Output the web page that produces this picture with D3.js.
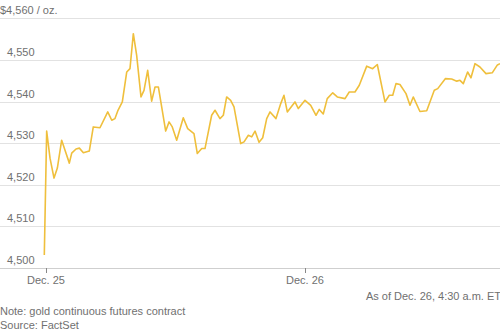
<!DOCTYPE html>
<meta charset="utf-8">
<html>
<head>
<script src="https://d3js.org/d3.v7.min.js"></script>
<style>
  body { margin: 0; background: #fff; }
  svg text { font-family: "Liberation Sans", Arial, sans-serif; font-size: 11px; fill: #707070; }
</style>
</head>
<body>
<svg width="500" height="332"></svg>
<script>

// hours after Dec. 25 00:00
var hours = [-0.16, 0.06, 0.37, 0.74, 1.05, 1.45, 1.76, 2.16, 2.38, 2.78, 3.09, 3.46, 4.01, 4.38, 5.00,
  5.72, 6.09, 6.39, 6.67, 7.07, 7.48, 7.78, 8.09, 8.40, 8.80, 9.08, 9.42, 9.79, 10.10, 10.41,
  11.09, 11.40, 11.70, 12.11, 12.72, 13.13, 13.71, 14.02, 14.43, 14.73, 15.35, 15.66, 16.12, 16.43, 16.74,
  17.11, 17.42, 18.04, 18.35, 18.75, 19.06, 19.37, 19.74, 20.08, 20.45, 20.76, 21.31, 21.75, 22.05, 22.36,
  23.07, 23.38, 24.00, 24.53, 25.02, 25.32, 25.69, 26.06, 26.57, 26.99, 27.71, 28.10, 28.63, 29.03, 29.72,
  30.27, 30.70, 31.41, 31.81, 32.13, 32.43, 32.80, 33.36, 33.73, 34.03, 34.65, 35.28, 35.98, 36.30, 37.00,
  37.59, 38.06, 38.36, 38.67, 39.07, 39.38, 39.75, 40.21, 40.77, 41.35, 41.83, 42.07];

var prices = [4503.1, 4532.9, 4526.4, 4521.6, 4524.0, 4530.7, 4528.3, 4525.2, 4527.6, 4528.6, 4528.8, 4527.7, 4528.1, 4533.9, 4533.7,
  4537.5, 4535.5, 4535.9, 4537.9, 4539.9, 4547.1, 4547.9, 4556.3, 4551.1, 4541.1, 4542.7, 4547.5, 4540.1, 4543.5, 4543.5,
  4532.9, 4535.1, 4533.9, 4530.7, 4536.1, 4533.5, 4532.3, 4527.5, 4528.7, 4528.7, 4536.7, 4537.9, 4535.9, 4536.7, 4541.1,
  4540.3, 4538.7, 4529.9, 4530.3, 4531.9, 4531.5, 4532.9, 4530.2, 4531.3, 4535.9, 4537.5, 4535.9, 4539.5, 4541.5, 4537.5,
  4539.9, 4538.3, 4540.3, 4539.1, 4536.7, 4538.1, 4537.0, 4540.7, 4542.1, 4541.1, 4540.7, 4542.3, 4542.3, 4543.9, 4548.5,
  4547.9, 4548.9, 4539.9, 4541.5, 4541.5, 4544.3, 4544.1, 4541.9, 4539.1, 4541.1, 4537.6, 4537.8, 4542.7, 4543.1, 4545.5,
  4545.4, 4544.9, 4545.1, 4544.3, 4547.1, 4545.7, 4549.1, 4548.3, 4546.7, 4546.9, 4548.8, 4549.1];

var yTicks = [4500, 4510, 4520, 4530, 4540, 4550, 4560];
var xTickDays = ["2025-12-25", "2025-12-26"];
var xTickLabels = ["Dec. 25", "Dec. 26"];
var asOf = "As of Dec. 26, 4:30 a.m. ET";
var notes = ["Note: gold continuous futures contract", "Source: FactSet"];

var base = Date.UTC(2025, 11, 25);
var data = hours.map(function(h, i) {
  return { date: new Date(base + h * 3600000), value: prices[i] };
});

var svg = d3.select("svg"),
    width = +svg.attr("width"),
    plotTop = 18.3, plotBottom = 268;

var x = d3.scaleUtc()
    .domain(d3.extent(data, function(d) { return d.date; }))
    .range([44.3, width]);

var y = d3.scaleLinear()
    .domain([4500, 4560])
    .range([plotBottom, plotTop]);

// gridlines + labels
var grid = svg.append("g");
grid.selectAll("line")
  .data(yTicks)
  .enter().append("line")
    .attr("x1", 0).attr("x2", width)
    .attr("y1", function(d) { return Math.round(y(d)) + 0.5; })
    .attr("y2", function(d) { return Math.round(y(d)) + 0.5; })
    .attr("stroke", function(d) { return d === 4500 ? "#cfcfcf" : "#e2e2e2"; })
    .attr("stroke-width", 1);

grid.selectAll("text")
  .data(yTicks)
  .enter().append("text")
    .attr("x", function(d) { return d === 4560 ? 0 : 7; })
    .attr("y", function(d) { return y(d) - 4; })
    .text(function(d) { return d === 4560 ? "$" + d3.format(",")(d) + " / oz." : d3.format(",")(d); });

// x axis ticks
var xt = svg.append("g");
xt.selectAll("line")
  .data(xTickDays)
  .enter().append("line")
    .attr("x1", function(d) { return Math.round(x(new Date(d + "T00:00:00Z"))) + 0.5; })
    .attr("x2", function(d) { return Math.round(x(new Date(d + "T00:00:00Z"))) + 0.5; })
    .attr("y1", plotBottom).attr("y2", plotBottom + 5)
    .attr("stroke", "#888");

xt.selectAll("text")
  .data(xTickDays)
  .enter().append("text")
    .attr("x", function(d) { return x(new Date(d + "T00:00:00Z")); })
    .attr("y", 284)
    .attr("text-anchor", "middle")
    .text(function(d, i) { return xTickLabels[i]; });

// price line
var line = d3.line()
    .x(function(d) { return x(d.date); })
    .y(function(d) { return y(d.value); });

svg.append("path")
    .datum(data)
    .attr("fill", "none")
    .attr("stroke", "#efbf3c")
    .attr("stroke-width", 1.6)
    .attr("stroke-linejoin", "round")
    .attr("d", line);

svg.append("text")
    .attr("x", 501)
    .attr("y", 300)
    .attr("text-anchor", "end")
    .text(asOf);

svg.selectAll(".note")
  .data(notes)
  .enter().append("text")
    .attr("class", "note")
    .attr("x", 0)
    .attr("y", function(d, i) { return 315 + i * 13.5; })
    .text(function(d) { return d; });

</script>
</body>
</html>
